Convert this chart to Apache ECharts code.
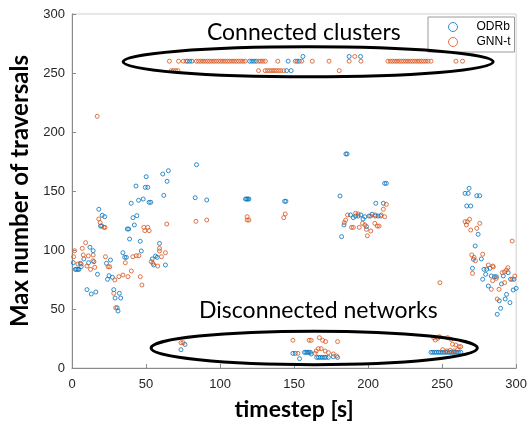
<!DOCTYPE html>
<html>
<head>
<meta charset="utf-8">
<script src="https://cdn.jsdelivr.net/npm/echarts@6/dist/echarts.min.js"></script>
<style>html,body{margin:0;padding:0;background:#fff}#c{width:530px;height:427px}</style>
</head>
<body>
<div id="c"></div>
<script>
// ---- tick labels / axis ranges ----
var xTicks = [0, 50, 100, 150, 200, 250, 300];
var yTicks = [0, 50, 100, 150, 200, 250, 300];
var seriesNames = ['ODRb', 'GNN-t'];

// ---- ODRb (blue) : [timestep, max traversals] ----
var odrbEarly = [[0.9,89.2],[2.2,83.6],[3.0,83.6],[4.0,83.6],[4.7,83.6],[5.6,88.7],[6.2,85.9],[8.0,92.4],[10.1,66.4],[11.2,89.2],[12.1,102.3],[13.0,62.7],[14.3,99.4],[14.8,90.1],[16.1,64.4],[17.2,79.4],[18.1,134.5],[19.3,120.3],[20.1,120.3],[20.4,129.4],[22.1,128.2],[23.3,88.7],[24.0,75.2],[25.0,78.2],[26.0,91.5],[27.3,76.9],[28.2,66.4],[29.1,59.3],[30.5,51.0],[31.1,48.3],[32.0,63.3],[32.9,59.3],[34.4,97.7],[35.6,93.8],[36.7,93.8],[37.4,117.8],[38.3,117.8],[38.9,109.3],[40.0,139.6],[41.2,127.4],[42.1,121.2],[43.2,154.2],[43.8,129.1],[45.0,142.1],[46.1,107.4],[46.8,99.2],[48.1,143.2],[49.5,153.1],[50.1,162.1],[51.2,153.1],[52.1,140.4],[53.2,140.4],[54.2,92.4],[55.2,87.3],[56.4,94.9],[57.5,93.8],[59.1,105.6],[61.3,164.4],[62.0,146.3],[63.1,87.3],[64.2,158.2],[65.1,167.2]];
var odrbMiddle = [[83.2,144.3],[84.1,172.3],[91.0,142.4],[117.2,143.2],[118.0,143.2],[118.8,143.2],[119.5,143.2],[143.6,141.3],[144.5,141.3],[181.0,145.8],[182.1,111.3],[185.0,181.4],[185.8,181.4],[211.2,156.5],[212.3,156.5],[205.2,139.6],[210.3,139.6],[183.7,121.2],[188.1,129.7],[190.0,127.4],[191.5,128.8],[193.3,128.8],[195.1,129.7],[196.6,126.3],[197.8,128.2],[198.9,119.8],[200.7,128.8],[202.7,130.3],[204.9,128.8],[206.7,128.8],[208.5,128.8]];
var odrbLate = [[265.5,148.0],[267.6,148.0],[268.2,152.3],[273.4,146.0],[275.4,146.0],[266.6,137.3],[269.3,137.3],[274.3,113.3],[272.3,103.4],[271.1,92.1],[276.5,92.4],[270.5,84.5],[278.3,83.6],[280.1,83.6],[282.3,84.5],[279.4,79.4],[283.2,78.0],[285.4,77.4],[286.6,77.4],[291.3,78.0],[294.6,80.8],[277.4,75.2],[296.2,75.2],[298.5,75.2],[290.1,71.2],[281.2,69.5],[298.0,66.1],[300.0,67.5],[293.5,62.4],[288.6,57.0],[292.6,58.5],[295.8,55.4],[289.5,50.6],[287.2,45.5]];
var odrbClusters = [[78.0,260],[79.5,260],[81.0,260],[120.0,260],[121.5,260],[123.0,260],[124.5,260],[146.0,260],[152.0,260],[153.5,260],[156.0,264],[187.2,264],[194.9,264],[145.0,252],[148.0,252]];
var odrbDisconnected = [[73.6,15.5],[76.3,20.0],[149.2,12.4],[150.8,12.4],[153.7,7.9],[157.0,13.3],[158.0,13.3],[159.0,13.3],[160.0,13.3],[161.0,13.3],[161.5,11.9],[165.3,9.0],[166.5,9.0],[167.7,9.0],[169.0,9.0],[170.3,9.0],[171.5,9.0],[173.2,9.0],[176.5,9.6],[179.4,9.0],[242.5,13.3],[243.7,13.3],[245.0,13.3],[246.2,13.3],[247.5,13.3],[248.7,13.3],[250.0,13.3],[251.2,13.3],[252.5,13.3],[253.7,13.3],[255.0,13.3],[256.2,13.3],[257.5,13.3],[258.7,13.3],[260.0,13.3],[261.2,13.3],[262.6,13.3]];

// ---- GNN-t (orange) ----
var gnnEarly = [[1.1,94.3],[1.8,99.4],[4.0,88.1],[6.2,88.1],[6.9,101.4],[7.6,95.8],[9.2,106.2],[10.1,86.4],[11.0,95.0],[12.5,83.6],[14.1,90.9],[14.3,95.8],[15.4,85.3],[17.0,213.3],[18.1,126.3],[19.0,123.2],[21.5,119.2],[22.3,119.2],[22.6,94.3],[24.4,85.8],[25.5,85.8],[28.2,63.3],[28.9,74.6],[29.5,51.1],[31.7,77.4],[34.4,78.8],[36.0,89.2],[37.8,77.4],[40.1,82.2],[41.1,94.3],[43.4,95.2],[45.2,95.2],[46.1,77.4],[47.2,70.3],[48.5,119.2],[49.2,116.4],[51.2,119.2],[52.1,116.4],[53.5,90.1],[54.6,88.7],[57.9,86.4],[59.1,99.2],[59.1,101.4],[60.4,94.3],[63.1,97.7],[64.0,122.0]];
var gnnMiddle = [[83.7,124.3],[91.0,125.4],[118.3,128.2],[118.3,125.4],[119.5,125.4],[144.0,130.5],[143.0,127.4],[183.9,123.2],[184.8,125.4],[186.1,129.7],[188.8,119.2],[190.0,119.2],[191.5,131.1],[193.3,130.5],[194.0,119.2],[196.2,122.6],[197.8,121.2],[198.9,117.5],[199.5,112.1],[201.8,116.1],[201.8,128.8],[204.5,122.6],[204.9,129.7],[206.2,120.3],[207.4,120.3],[208.9,129.7],[211.2,128.2],[210.3,134.5],[212.3,138.7],[248.5,72.3]];
var gnnLate = [[265.5,124.0],[267.1,124.0],[268.5,126.0],[266.4,121.2],[275.4,122.6],[273.4,118.4],[269.3,116.9],[297.3,107.6],[277.4,96.4],[270.0,95.8],[271.6,93.8],[272.5,90.9],[281.2,87.3],[284.1,86.4],[270.5,80.2],[284.6,85.8],[290.6,80.8],[292.2,81.6],[293.5,83.0],[294.4,85.0],[286.6,76.0],[284.1,74.0],[297.3,75.2],[299.1,78.0],[292.2,72.3],[283.2,66.7],[288.4,66.7],[287.2,58.5]];
var gnnClusters = [[65.8,260],[72.0,260],[75.2,260],[77.0,260],[84.0,260],[85.5,260],[87.0,260],[88.5,260],[90.0,260],[91.5,260],[93.0,260],[94.5,260],[96.0,260],[97.5,260],[99.0,260],[100.5,260],[102.0,260],[103.5,260],[105.0,260],[106.5,260],[108.0,260],[109.5,260],[111.0,260],[112.5,260],[114.0,260],[115.5,260],[117.0,260],[126.2,260],[127.5,260],[129.0,260],[130.6,260],[139.0,260],[150.8,260],[155.2,260],[162.3,260],[173.6,260],[187.2,260],[195.2,260],[213.4,260],[215.0,260],[216.5,260],[218.0,260],[219.5,260],[221.0,260],[222.5,260],[224.0,260],[225.5,260],[227.0,260],[228.5,260],[230.0,260],[231.5,260],[233.0,260],[234.5,260],[236.0,260],[237.5,260],[239.0,260],[240.5,260],[242.5,260],[259.3,260],[263.8,260],[191.0,264],[67.0,252],[68.5,252],[70.0,252],[71.5,252],[126.0,252],[130.5,252],[132.0,252],[133.5,252],[135.0,252],[136.5,252],[138.0,252],[139.5,252],[141.0,252],[143.0,252],[180.5,252]];
var gnnDisconnected = [[73.6,21.4],[75.0,21.4],[149.2,23.5],[160.2,23.5],[161.5,23.5],[167.1,25.7],[169.3,23.5],[171.3,22.4],[179.4,22.4],[166.4,16.4],[168.3,16.4],[164.9,14.4],[171.0,14.4],[173.2,13.0],[152.6,12.4],[164.2,12.4],[176.5,11.9],[178.7,10.2],[244.3,25.7],[245.4,23.7],[247.0,25.1],[248.1,26.5],[253.7,25.7],[255.9,24.3],[257.0,20.1],[259.3,19.5],[261.5,18.1],[262.6,18.1],[250.4,15.5],[253.0,14.5],[255.5,15.0],[258.0,14.5],[260.5,15.5]];

// ---- annotations (data coordinates) ----
var annotations = [
  {text: 'Connected clusters', tx: 156.6, ty: 284.5, cx: 159.5, cy: 259.5, rx: 125, ry: 12.7},
  {text: 'Disconnected networks', tx: 166.4, ty: 49, cx: 163.6, cy: 17.0, rx: 110.2, ry: 14.2}
];

var odrb = odrbEarly.concat(odrbMiddle, odrbLate, odrbClusters, odrbDisconnected);
var gnn = gnnEarly.concat(gnnMiddle, gnnLate, gnnClusters, gnnDisconnected);

var BLUE = '#0072BD', ORANGE = '#D95319';
var chart = echarts.init(document.getElementById('c'), null, {renderer: 'canvas'});
var axisCommon = {
  min: 0, max: 300, interval: 50,
  axisLine: {show: true, lineStyle: {color: '#8a8a8a', width: 1}},
  axisTick: {show: true, inside: true, length: 4, lineStyle: {color: '#8a8a8a'}},
  splitLine: {show: false},
  axisLabel: {color: '#262626', fontFamily: 'Liberation Sans', fontSize: 13}
};
chart.setOption({
  animation: false,
  backgroundColor: '#fff',
  grid: {left: 72, right: 11, top: 14, bottom: 59, show: true, borderColor: '#cfcfcf', borderWidth: 1},
  xAxis: Object.assign({}, axisCommon, {
    type: 'value',
    axisLabel: Object.assign({}, axisCommon.axisLabel, {margin: 10, customValues: xTicks}),
    name: 'timestep [s]', nameLocation: 'middle', nameGap: 30,
    nameTextStyle: {fontFamily: 'Lato', fontWeight: 'bold', fontSize: 23, color: '#000'}
  }),
  yAxis: Object.assign({}, axisCommon, {
    type: 'value',
    axisLabel: Object.assign({}, axisCommon.axisLabel, {margin: 7, customValues: yTicks}),
    name: 'Max number of traversals', nameLocation: 'middle', nameGap: 38,
    nameTextStyle: {fontFamily: 'Lato', fontWeight: 'bold', fontSize: 24, color: '#000'}
  }),
  legend: {
    orient: 'vertical', left: 428, top: 17,
    padding: [4, 4, 4, 20], itemGap: 3, itemWidth: 9, itemHeight: 9,
    borderColor: '#9a9a9a', borderWidth: 1, backgroundColor: '#fff',
    textStyle: {fontFamily: 'Liberation Sans', fontSize: 12, color: '#000', padding: [0, 0, 0, 14]},
    data: [
      {name: seriesNames[0], icon: 'circle', itemStyle: {color: 'transparent', borderColor: BLUE, borderWidth: 1}},
      {name: seriesNames[1], icon: 'circle', itemStyle: {color: 'transparent', borderColor: ORANGE, borderWidth: 1}}
    ]
  },
  series: [
    {name: seriesNames[0], type: 'scatter', data: odrb, symbol: 'circle', symbolSize: 4,
     itemStyle: {color: 'transparent', borderColor: BLUE, borderWidth: 1, opacity: 0.8}},
    {name: seriesNames[1], type: 'scatter', data: gnn, symbol: 'circle', symbolSize: 4,
     itemStyle: {color: 'transparent', borderColor: ORANGE, borderWidth: 1, opacity: 0.8}}
  ]
});

// annotations: ellipses and labels positioned through the chart's own scales
var elems = [];
annotations.forEach(function (a) {
  var c = chart.convertToPixel({gridIndex: 0}, [a.cx, a.cy]);
  var e = chart.convertToPixel({gridIndex: 0}, [a.cx + a.rx, a.cy + a.ry]);
  var t = chart.convertToPixel({gridIndex: 0}, [a.tx, a.ty]);
  elems.push({type: 'ellipse', z: 100, silent: true,
    shape: {cx: c[0], cy: c[1], rx: Math.abs(e[0] - c[0]), ry: Math.abs(e[1] - c[1])},
    style: {fill: null, stroke: '#000', lineWidth: 3}});
  elems.push({type: 'text', z: 100, silent: true, x: t[0], y: t[1],
    style: {text: a.text, fill: '#000', font: '23px Lato', align: 'center', verticalAlign: 'middle'}});
});
chart.setOption({graphic: elems});
</script>
</body>
</html>
